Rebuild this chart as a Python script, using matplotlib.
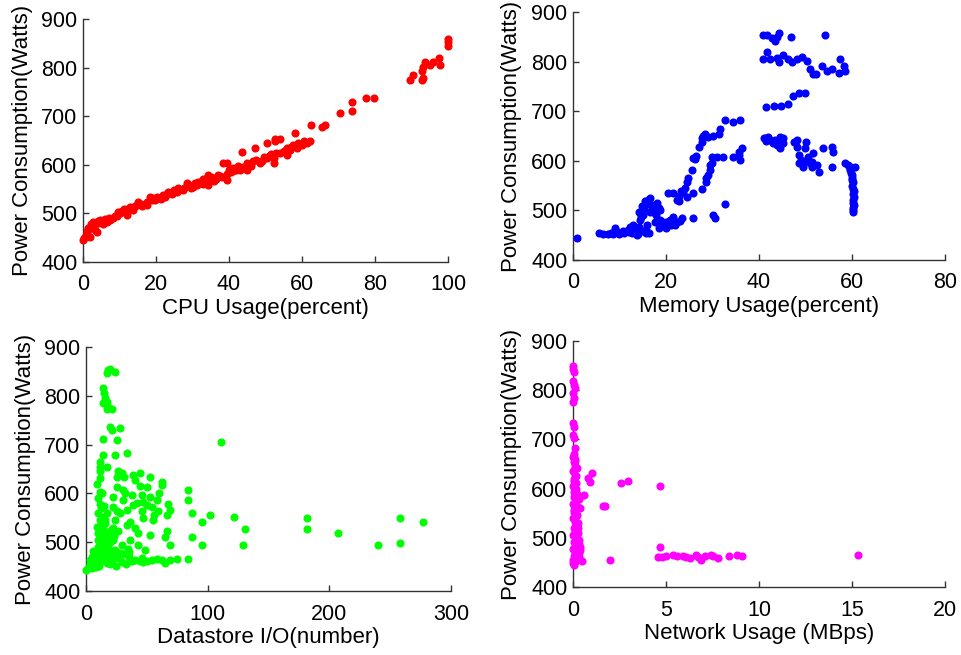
import matplotlib
matplotlib.use("Agg")
import matplotlib.pyplot as plt

plt.rcParams['font.family'] = ['Liberation Sans', 'DejaVu Sans']

# ---------------- data ----------------
cpu_x = [0, 0.3, 0.5, 1.0, 1.2, 1.9, 1.9, 2.5, 2.8, 3.3,
         3.7, 4.2, 4.7, 5.6, 6.0, 6.5, 7.5, 8.3, 9.2, 10.1,
         11.1, 12.0, 12.0, 12.9, 13.8, 14.7, 15.2, 16.3, 17.4, 17.4,
         18.4, 19.7, 20.2, 21.3, 22.5, 23.4, 24.5, 25.7, 26.1, 27.3,
         28.4, 29.5, 30.2, 31.1, 31.6, 32.8, 33.9, 34.3, 34.3, 35.7,
         36.5, 37.5, 38.4, 39.4, 39.4, 39.4, 40.5, 41.6, 43.0, 43.5,
         43.9, 44.8, 45.8, 47.1, 48.5, 50.3, 50.3, 52.2, 52.2, 52.6,
         52.6, 54.0, 54.0, 55.8, 56.7, 58.1, 58.5, 59.4, 61.3, 62.2,
         62.6, 65.4, 66.3, 70.4, 73.6, 73.6, 77.5, 79.8, 89.6, 90.5,
         92.8, 92.8, 93.2, 93.2, 93.7, 95.0, 96.0, 97.4, 97.8, 100,
         100, 100, 36.0, 38.0, 42.0, 46.0, 49.0, 51.0, 57.0, 60.0,
         1.5, 2.2, 3.0, 4.0, 5.0, 7.0, 8.8, 9.7, 10.6, 11.5,
         13.3, 14.2, 16.0, 18.9, 19.2, 21.8, 23.0, 25.0, 27.8, 29.0,
         30.7, 32.0, 33.0, 35.0, 37.0, 40.0, 41.0, 42.5, 44.0, 45.0,
         46.5, 47.5, 49.5, 51.5, 53.0, 55.0, 56.0, 57.5, 59.0, 60.5]
cpu_y = [445, 450, 452, 459, 464, 469, 452, 476, 483, 466,
         462, 480, 486, 479, 488, 483, 487, 490, 494, 500,
         510, 510, 497, 514, 506, 517, 524, 515, 524, 517,
         534, 528, 534, 530, 534, 545, 540, 545, 552, 548,
         562, 553, 555, 558, 565, 560, 565, 579, 558, 572,
         570, 576, 603, 603, 582, 569, 585, 589, 589, 627,
         596, 589, 600, 634, 603, 644, 613, 613, 603, 654,
         648, 654, 624, 620, 630, 665, 634, 641, 644, 648,
         682, 678, 682, 706, 730, 711, 737, 737, 774, 785,
         792, 774, 802, 778, 812, 805, 812, 819, 805, 845,
         853, 858, 566, 575, 590, 598, 608, 618, 637, 640,
         470, 478, 473, 485, 482, 490, 495, 502, 505, 503,
         512, 515, 520, 528, 532, 537, 540, 548, 553, 558,
         562, 563, 570, 575, 580, 590, 593, 598, 593, 603,
         607, 610, 616, 622, 625, 628, 635, 640, 645, 650]

mem_x = [0.8, 5.5, 6.5, 7.6, 8.7, 9.0, 9.4, 10.8, 11.9, 12.3,
         12.6, 13.3, 13.7, 14.1, 14.4, 14.4, 14.8, 14.1, 15.5, 15.8,
         15.8, 16.6, 16.9, 16.6, 17.6, 18.0, 18.4, 18.7, 17.6, 18.4,
         18.7, 20.1, 20.9, 21.6, 22.3, 23.4, 25.9, 30.2, 30.5, 32.7,
         20.5, 21.6, 22.3, 22.7, 23.7, 24.5, 24.5, 24.8, 25.5, 25.9,
         25.9, 26.2, 27.0, 27.7, 27.7, 28.4, 29.1, 30.2, 31.3, 31.6,
         32.7, 34.5, 35.9, 27.7, 28.7, 28.7, 29.1, 29.5, 29.5, 29.8,
         29.8, 30.9, 32.3, 34.5, 35.6, 36.0, 36.3, 35.6, 41.0, 41.6,
         42.4, 43.1, 43.8, 44.5, 44.5, 45.2, 45.2, 48.1, 48.1, 48.5,
         48.5, 49.5, 49.9, 50.2, 50.6, 51.0, 51.3, 51.7, 52.4, 52.8,
         53.8, 55.6, 56.0, 55.6, 58.5, 59.2, 59.6, 60.0, 60.3, 60.3,
         60.3, 60.3, 60.3, 60.3, 59.6, 60.6, 60.0, 41.6, 43.2, 44.7,
         46.3, 47.4, 48.7, 49.9, 40.8, 41.8, 42.8, 43.4, 44.2, 43.8,
         46.9, 54.2, 40.8, 41.8, 42.4, 43.8, 44.4, 45.2, 46.3, 47.0,
         48.1, 49.2, 50.3, 51.0, 51.7, 52.3, 53.5, 54.6, 55.6, 57.1,
         57.4, 58.3, 58.6, 15.0, 16.0, 13.0, 20.0, 22.0, 60.5, 60.2,
         12.8, 13.5, 14.6, 15.2, 15.9, 16.2, 16.9, 17.2, 17.8, 19.0,
         19.5, 21.0, 23.0, 14.0, 15.0, 16.4, 12.0, 11.0, 9.8, 8.2,
         41.5, 42.0, 43.5, 44.8, 47.5, 49.0, 50.0, 51.5, 59.8, 60.1,
         60.4, 60.2, 60.5, 59.9, 59.4, 22.8, 23.2, 24.0, 26.5, 28.0]
mem_y = [445, 455, 452, 452, 452, 464, 457, 459, 460, 467,
         454, 457, 450, 467, 481, 494, 508, 497, 518, 460,
         454, 524, 511, 497, 494, 514, 504, 501, 477, 464,
         481, 477, 481, 487, 477, 485, 485, 491, 484, 513,
         536, 536, 521, 518, 538, 528, 558, 565, 581, 536,
         605, 603, 628, 638, 645, 655, 648, 651, 655, 665,
         682, 679, 682, 543, 558, 565, 571, 581, 591, 595,
         608, 608, 608, 608, 612, 602, 625, 618, 645, 645,
         642, 635, 632, 625, 648, 645, 635, 642, 628, 612,
         595, 588, 625, 638, 608, 595, 588, 615, 591, 578,
         625, 628, 618, 588, 595, 591, 581, 571, 558, 544,
         534, 521, 514, 497, 585, 588, 561, 708, 710, 710,
         714, 731, 737, 737, 854, 854, 847, 842, 857, 850,
         850, 854, 805, 819, 805, 807, 799, 814, 805, 800,
         805, 809, 802, 785, 775, 775, 792, 782, 785, 778,
         805, 792, 782, 490, 470, 462, 465, 470, 528, 505,
         470, 463, 487, 503, 512, 521, 500, 507, 490, 478,
         470, 470, 478, 452, 458, 454, 456, 455, 453, 455,
         640, 648, 642, 638, 638, 602, 600, 598, 575, 550,
         540, 500, 510, 565, 590, 530, 540, 545, 610, 650]

ds_x = [18.4, 17, 19.7, 23.8, 14.2, 14.8, 15.6, 17, 14.2, 18.4,
        21.1, 17, 19.7, 21.1, 27.9, 14.2, 25.2, 111, 14.2, 23.8,
        33.4, 11.5, 11.5, 17, 11.5, 11.5, 26.6, 29.3, 25.2, 31.5,
        38.9, 44.4, 40.3, 52.6, 62.2, 62.2, 49.9, 25.2, 30.7, 84.1,
        11.5, 22.5, 37.5, 45.8, 52.6, 58.1, 30.7, 47.1, 11.5, 67.7,
        84.1, 22.5, 38.9, 54, 49.9, 10.1, 25.2, 33.4, 45.8, 59.5,
        69, 66.3, 86.8, 102, 121.6, 11.5, 23.8, 36.2, 47.1, 55.3,
        95, 182, 182, 258, 277, 131, 207, 240, 258, 129,
        95, 86.8, 14.2, 21.1, 26.6, 33.4, 43, 52.6, 66.3, 65,
        10.1, 11.5, 22.5, 29.3, 43, 69, 12.9, 23.8, 34.8, 48.5,
        6, 3.3, 8.8, 17, 21.1, 29.3, 40.3, 45.8, 54, 62.2,
        69, 74.5, 65, 84.1, 0, 3.3, 7.4, 11.5, 14.2, 10.1,
        15.6, 7.4, 18.4, 14.2, 15.6, 8.8, 5, 9, 12, 16,
        18, 20, 13, 4, 7, 10, 19, 24, 28, 35,
        50, 58, 36, 40, 56, 42, 60, 28, 32, 44,
        2, 3, 5, 6, 8, 9, 11, 12, 13, 14,
        15, 16, 17, 18, 19, 20, 21, 22, 23, 10,
        12, 13, 14, 16, 17, 12, 15, 10, 13, 9,
        22, 26, 30, 35, 20, 25, 33, 38, 44, 47]
ds_y = [853, 846, 854, 848, 815, 805, 795, 788, 785, 778,
        773, 773, 737, 730, 735, 711, 709, 706, 679, 679,
        682, 665, 655, 655, 645, 631, 645, 641, 634, 634,
        638, 641, 627, 634, 624, 617, 613, 613, 607, 607,
        603, 593, 597, 597, 593, 586, 586, 583, 579, 579,
        586, 572, 576, 572, 576, 559, 563, 566, 563, 563,
        566, 556, 559, 556, 552, 545, 545, 542, 549, 545,
        542, 549, 528, 549, 542, 528, 518, 494, 498, 494,
        494, 511, 525, 528, 522, 535, 518, 515, 522, 511,
        518, 504, 504, 494, 494, 494, 484, 484, 487, 484,
        481, 464, 464, 457, 464, 460, 464, 467, 464, 464,
        464, 465, 457, 465, 444, 450, 453, 460, 470, 491,
        498, 474, 481, 552, 539, 532, 470, 478, 490, 508,
        520, 500, 540, 458, 462, 470, 470, 475, 478, 470,
        462, 465, 505, 530, 555, 580, 600, 560, 600, 615,
        447, 455, 448, 458, 450, 456, 452, 465, 475, 480,
        488, 495, 503, 490, 485, 515, 522, 530, 512, 505,
        515, 525, 535, 545, 560, 570, 575, 590, 600, 620,
        470, 468, 475, 480, 455, 452, 455, 462, 462, 459]

net_x = [0, 0, 0.05, 0, 0.05, 0.1, 0, 0.05, 0, 0,
         0.05, 0, 0.05, 0.1, 0, 0.05, 0.1, 0.2, 0, 0.1,
         0.05, 0.15, 0, 0.1, 0.2, 0.05, 0.15, 0, 0.1, 0.38,
         0.05, 0.2, 0, 0.1, 0.15, 0.05, 0.29, 0.1, 0, 0.2,
         0.05, 0.15, 0.38, 0, 0.1, 0.25, 0.05, 0, 0.1, 0.47,
         0.82, 0.9, 1.0, 0.6, 1.6, 1.7, 2.6, 2.97, 4.68, 4.68,
         2.0, 4.59, 4.77, 5.0, 5.4, 5.6, 5.9, 6.1, 6.3, 6.6,
         6.7, 6.9, 7.1, 7.4, 7.5, 7.8, 8.4, 8.8, 9.07, 15.3,
         0.3, 0.25, 0.2, 0.3, 0.15, 0, 0.05, 0.2, 0.3, 0.1,
         0.05, 0.1, 0.15, 0.2, 0.25, 0.1, 0.15, 0.05, 0.2, 0.1,
         0.3, 0.05, 0.1, 0.05, 0.15, 0.05, 0.1, 0.05, 0.3, 0.35]
net_y = [850, 843, 838, 818, 810, 804, 795, 785, 776, 733,
         726, 709, 702, 682, 665, 655, 645, 641, 635, 628,
         620, 612, 605, 598, 590, 583, 575, 568, 561, 560,
         553, 547, 540, 533, 526, 519, 509, 512, 505, 498,
         491, 484, 482, 477, 470, 465, 462, 455, 450, 452,
         621, 614, 632, 588, 565, 565, 612, 616, 605, 482,
         455, 460, 460, 462, 465, 462, 462, 460, 458, 465,
         460, 455, 462, 465, 462, 458, 462, 465, 462, 465,
         470, 530, 580, 495, 600, 448, 445, 515, 488, 656,
         480, 490, 500, 507, 520, 537, 545, 557, 565, 572,
         578, 593, 610, 615, 625, 638, 660, 670, 460, 475]

y_label = 'Power Consumption(Watts)'
x_labels = ['CPU Usage(percent)', 'Memory Usage(percent)',
            'Datastore I/O(number)', 'Network Usage (MBps)']
x_limits = [(0, 100), (0, 80), (0, 300), (0, 20)]
x_ticks = [[0, 20, 40, 60, 80, 100], [0, 20, 40, 60, 80],
           [0, 100, 200, 300], [0, 5, 10, 15, 20]]
y_ticks = [400, 500, 600, 700, 800, 900]
colors = ['#ff0000', '#0000ff', '#00ff00', '#ff00ff']

# ---------------- figure ----------------
W, H = 961, 655
fig = plt.figure(figsize=(W / 100, H / 100), dpi=100)

# pixel boxes: left, top, right, bottom
boxes = [(83, 19, 448, 262), (573, 12, 945, 260),
         (86, 347, 451, 591), (573, 341, 945, 587)]
series = [(cpu_x, cpu_y), (mem_x, mem_y), (ds_x, ds_y), (net_x, net_y)]
FS = 15.5
LFS = 16

for i, (l, t, r, b) in enumerate(boxes):
    ax = fig.add_axes([l / W, 1 - b / H, (r - l) / W, (b - t) / H])
    xs, ys = series[i]
    n = min(len(xs), len(ys))
    ax.scatter(xs[:n], ys[:n], s=34, c=colors[i], linewidths=0, clip_on=False, zorder=3)
    ax.set_xlim(*x_limits[i])
    ax.set_ylim(400, 900)
    ax.set_xticks(x_ticks[i])
    ax.set_yticks(y_ticks)
    for side in ['top', 'right']:
        ax.spines[side].set_visible(False)
    for side in ['left', 'bottom']:
        ax.spines[side].set_color('#333333')
        ax.spines[side].set_linewidth(1.0)
    ax.tick_params(direction='in', length=4, width=1, color='#333333',
                   labelsize=FS, labelcolor='black')
    ax.tick_params(axis='x', pad=9)
    ax.tick_params(axis='y', pad=4)
    ax.set_xlabel(x_labels[i], fontsize=LFS, labelpad=2)
    ax.set_ylabel(y_label, fontsize=LFS)
    ax.yaxis.set_label_coords(-0.137, 0.5)

fig.savefig('out.png', dpi=100)
